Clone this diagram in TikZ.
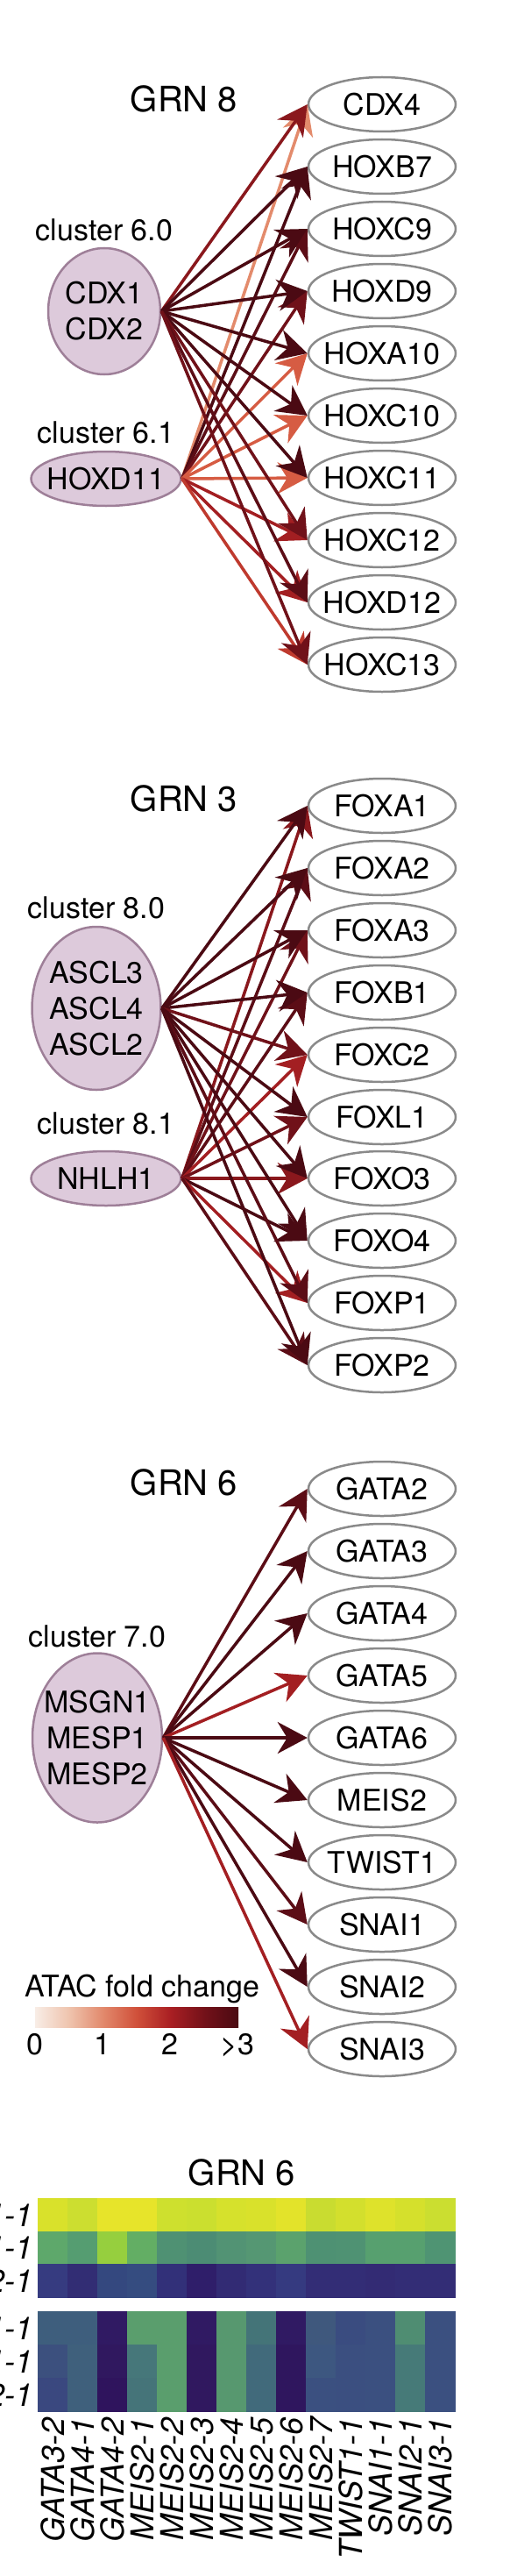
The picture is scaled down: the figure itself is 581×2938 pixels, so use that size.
\documentclass[tikz,border=0pt]{standalone}
\usepackage{fontspec}
\setmainfont{TeX Gyre Heros}
\usepackage{tikz}
\usetikzlibrary{arrows.meta, shapes.geometric}
\definecolor{edA}{HTML}{4B0A13}
\definecolor{edB}{HTML}{5C0D16}
\definecolor{edC}{HTML}{701119}
\definecolor{edD}{HTML}{8A181D}
\definecolor{edE}{HTML}{A31F22}
\definecolor{edF}{HTML}{BF3A2E}
\definecolor{edG}{HTML}{D65C43}
\definecolor{edH}{HTML}{E38B6C}
\definecolor{geneline}{HTML}{8A8A8A}
\definecolor{tffill}{HTML}{DDCADB}
\definecolor{tfline}{HTML}{9E7F98}
\definecolor{atac0}{HTML}{F8EDE6}
\definecolor{atac1}{HTML}{EFC4AE}
\definecolor{atac2}{HTML}{E2896C}
\definecolor{atac3}{HTML}{D0503A}
\definecolor{atac4}{HTML}{A91F23}
\definecolor{atac5}{HTML}{731119}
\definecolor{atac6}{HTML}{4A0A12}
\pgfdeclarehorizontalshading{atac}{100bp}{color(0bp)=(atac0); color(25bp)=(atac0); color(33.3bp)=(atac1); color(41.7bp)=(atac2); color(50bp)=(atac3); color(58.3bp)=(atac4); color(66.7bp)=(atac5); color(75bp)=(atac6); color(100bp)=(atac6)}
\tikzstyle{gene}=[ellipse, draw=geneline, fill=white, line width=2.5pt, minimum width=168pt, minimum height=62pt, inner xsep=-10pt, inner ysep=0pt, font=\fontsize{34}{41}\selectfont]
\tikzstyle{tf}=[ellipse, draw=tfline, fill=tffill, line width=2.5pt, inner xsep=-10pt, inner ysep=0pt, align=center, font=\fontsize{34}{41}\selectfont]
\tikzstyle{grntitle}=[anchor=base, inner sep=0pt, font=\fontsize{40}{48}\selectfont]
\tikzstyle{clabel}=[anchor=base, inner sep=0pt, font=\fontsize{34}{41}\selectfont]
\tikzstyle{reg}=[line width=3.5pt, -{Stealth[length=34pt, width=36pt, inset=11pt]}]
\tikzstyle{collabel}=[rotate=90, anchor=east, inner sep=0pt, font=\fontsize{36}{43}\selectfont\itshape]
\tikzstyle{rowlabel}=[anchor=east, inner sep=0pt, font=\fontsize{36}{43}\selectfont\itshape]

\begin{document}
\begin{tikzpicture}[x=1pt, y=-1pt]
	\useasboundingbox (0, 0) rectangle (581, 2938);
	% GRN 8
	\begin{scope}
		\node (t8) at (210, 128)[grntitle] {GRN 8};
		\node (c60) at (119, 275)[clabel] {cluster 6.0};
		\node (c61) at (121, 505)[clabel] {cluster 6.1};
		\node (cdx) at (119, 355)[tf, minimum width=128pt, minimum height=144pt] {CDX1\\CDX2};
		\node (hoxd) at (121, 546)[tf, minimum width=171pt, minimum height=62pt] {HOXD11};

		\node (cdx4) at (436, 119)[gene] {CDX4};
		\node (hoxb7) at (436, 190)[gene] {HOXB7};
		\node (hoxc9) at (436, 261)[gene] {HOXC9};
		\node (hoxd9) at (436, 332)[gene] {HOXD9};
		\node (hoxa10) at (436, 403)[gene] {HOXA10};
		\node (hoxc10) at (436, 474)[gene] {HOXC10};
		\node (hoxc11) at (436, 545)[gene] {HOXC11};
		\node (hoxc12) at (436, 616)[gene] {HOXC12};
		\node (hoxd12) at (436, 687)[gene] {HOXD12};
		\node (hoxc13) at (436, 758)[gene] {HOXC13};
	\end{scope}
	\begin{scope}
		\path [reg] (hoxd.east) edge [edH] (cdx4.west);
		\path [reg] (hoxd.east) edge [edA] (hoxb7.west);
		\path [reg] (hoxd.east) edge [edB] (hoxc9.west);
		\path [reg] (hoxd.east) edge [edC] (hoxd9.west);
		\path [reg] (hoxd.east) edge [edG] (hoxa10.west);
		\path [reg] (hoxd.east) edge [edG] (hoxc10.west);
		\path [reg] (hoxd.east) edge [edG] (hoxc11.west);
		\path [reg] (hoxd.east) edge [edE] (hoxc12.west);
		\path [reg] (hoxd.east) edge [edE] (hoxd12.west);
		\path [reg] (hoxd.east) edge [edF] (hoxc13.west);

		\path [reg] (cdx.east) edge [edD] (cdx4.west);
		\path [reg] (cdx.east) edge [edA] (hoxb7.west);
		\path [reg] (cdx.east) edge [edA] (hoxc9.west);
		\path [reg] (cdx.east) edge [edA] (hoxd9.west);
		\path [reg] (cdx.east) edge [edA] (hoxa10.west);
		\path [reg] (cdx.east) edge [edA] (hoxc10.west);
		\path [reg] (cdx.east) edge [edA] (hoxc11.west);
		\path [reg] (cdx.east) edge [edC] (hoxc12.west);
		\path [reg] (cdx.east) edge [edB] (hoxd12.west);
		\path [reg] (cdx.east) edge [edC] (hoxc13.west);
	\end{scope}

	% GRN 3
	\begin{scope}
		\node (t3) at (210, 925)[grntitle] {GRN 3};
		\node (c80) at (110, 1047)[clabel] {cluster 8.0};
		\node (c81) at (121, 1293)[clabel] {cluster 8.1};
		\node (ascl) at (110, 1150)[tf, minimum width=147pt, minimum height=186pt] {ASCL3\\ASCL4\\ASCL2};
		\node (nhlh) at (121, 1344)[tf, minimum width=171pt, minimum height=62pt] {NHLH1};

		\node (foxa1) at (436, 919)[gene] {FOXA1};
		\node (foxa2) at (436, 990)[gene] {FOXA2};
		\node (foxa3) at (436, 1061)[gene] {FOXA3};
		\node (foxb1) at (436, 1132)[gene] {FOXB1};
		\node (foxc2) at (436, 1203)[gene] {FOXC2};
		\node (foxl1) at (436, 1274)[gene] {FOXL1};
		\node (foxo3) at (436, 1344)[gene] {FOXO3};
		\node (foxo4) at (436, 1415)[gene] {FOXO4};
		\node (foxp1) at (436, 1486)[gene] {FOXP1};
		\node (foxp2) at (436, 1557)[gene] {FOXP2};
	\end{scope}
	\begin{scope}
		\path [reg] (nhlh.east) edge [edD] (foxa1.west);
		\path [reg] (nhlh.east) edge [edB] (foxa2.west);
		\path [reg] (nhlh.east) edge [edC] (foxa3.west);
		\path [reg] (nhlh.east) edge [edB] (foxb1.west);
		\path [reg] (nhlh.east) edge [edE] (foxc2.west);
		\path [reg] (nhlh.east) edge [edC] (foxl1.west);
		\path [reg] (nhlh.east) edge [edD] (foxo3.west);
		\path [reg] (nhlh.east) edge [edA] (foxo4.west);
		\path [reg] (nhlh.east) edge [edE] (foxp1.west);
		\path [reg] (nhlh.east) edge [edB] (foxp2.west);

		\path [reg] (ascl.east) edge [edA] (foxa1.west);
		\path [reg] (ascl.east) edge [edA] (foxa2.west);
		\path [reg] (ascl.east) edge [edA] (foxa3.west);
		\path [reg] (ascl.east) edge [edA] (foxb1.west);
		\path [reg] (ascl.east) edge [edC] (foxc2.west);
		\path [reg] (ascl.east) edge [edA] (foxl1.west);
		\path [reg] (ascl.east) edge [edA] (foxo3.west);
		\path [reg] (ascl.east) edge [edA] (foxo4.west);
		\path [reg] (ascl.east) edge [edB] (foxp1.west);
		\path [reg] (ascl.east) edge [edA] (foxp2.west);
	\end{scope}

	% GRN 6
	\begin{scope}
		\node (t6) at (210, 1705)[grntitle] {GRN 6};
		\node (c70) at (111, 1878)[clabel] {cluster 7.0};
		\node (msgn) at (111, 1982)[tf, minimum width=148pt, minimum height=193pt] {MSGN1\\MESP1\\MESP2};

		\node (gata2) at (436, 1698)[gene] {GATA2};
		\node (gata3) at (436, 1769)[gene] {GATA3};
		\node (gata4) at (436, 1840)[gene] {GATA4};
		\node (gata5) at (436, 1911)[gene] {GATA5};
		\node (gata6) at (436, 1982)[gene] {GATA6};
		\node (meis2) at (436, 2053)[gene] {MEIS2};
		\node (twist1) at (436, 2124)[gene] {TWIST1};
		\node (snai1) at (436, 2195)[gene] {SNAI1};
		\node (snai2) at (436, 2266)[gene] {SNAI2};
		\node (snai3) at (436, 2337)[gene] {SNAI3};
	\end{scope}
	\begin{scope}
		\path [reg] (msgn.east) edge [edB] (gata2.west);
		\path [reg] (msgn.east) edge [edA] (gata3.west);
		\path [reg] (msgn.east) edge [edA] (gata4.west);
		\path [reg] (msgn.east) edge [edE] (gata5.west);
		\path [reg] (msgn.east) edge [edA] (gata6.west);
		\path [reg] (msgn.east) edge [edA] (meis2.west);
		\path [reg] (msgn.east) edge [edA] (twist1.west);
		\path [reg] (msgn.east) edge [edB] (snai1.west);
		\path [reg] (msgn.east) edge [edA] (snai2.west);
		\path [reg] (msgn.east) edge [edE] (snai3.west);
	\end{scope}

	% legend
	\node (legend) at (28, 2277)[clabel, anchor=base west] {ATAC fold change};
	\shade [shading=atac] (40, 2289) rectangle (272, 2312);
	\node (tick0) at (40, 2343)[clabel] {0};
	\node (tick1) at (117, 2343)[clabel] {1};
	\node (tick2) at (194, 2343)[clabel] {2};
	\node (tick3) at (271, 2343)[clabel] {>3};

	% heatmap
	\node (th) at (276, 2492)[grntitle] {GRN 6};
	\foreach \hx [count=\i from 0] in {D9E12B, CCDE30, E7E42A, E7E42A, CEE02E, CBDF2F, D6E12C, D9E12B, E3E32A, C9DC30, D3DF2D, DEE22B, D5E02C, CBDE30}
		{\definecolor{cell}{HTML}{\hx}\filldraw [cell, line width=0.4pt] (43+34*\i, 2507) rectangle ++(34, 37.7);}
	\foreach \hx [count=\i from 0] in {5EA86B, 559D71, 96CF3E, 63AE64, 4F9173, 4C8C74, 529374, 559773, 5BA26D, 4E9173, 4F9273, 57A06F, 57A06F, 4F9473}
		{\definecolor{cell}{HTML}{\hx}\filldraw [cell, line width=0.4pt] (43+34*\i, 2544.7) rectangle ++(34, 37.7);}
	\foreach \hx [count=\i from 0] in {363B80, 322D74, 34487F, 354C80, 323079, 2F1E6A, 322B74, 33317A, 353A80, 332D76, 332D76, 332B74, 332D76, 332D76}
		{\definecolor{cell}{HTML}{\hx}\filldraw [cell, line width=0.4pt] (43+34*\i, 2582.3) rectangle ++(34, 37.7);}
	\foreach \hx [count=\i from 0] in {3E5E7D, 3E5E7D, 301A63, 5A9E6D, 5A9E6D, 301A63, 57986F, 447478, 301A63, 3F587D, 3A4C80, 3B5080, 4F8D72, 3B5080}
		{\definecolor{cell}{HTML}{\hx}\filldraw [cell, line width=0.4pt] (43+34*\i, 2636) rectangle ++(34, 38);}
	\foreach \hx [count=\i from 0] in {3C507E, 3F607C, 30185F, 46777A, 5A9E6D, 30185F, 57986F, 416A7B, 2F165E, 3D5780, 3B4F80, 3B5080, 467A78, 3B5080}
		{\definecolor{cell}{HTML}{\hx}\filldraw [cell, line width=0.4pt] (43+34*\i, 2674) rectangle ++(34, 38);}
	\foreach \hx [count=\i from 0] in {3A487F, 3F607C, 2F145D, 457479, 5A9E6D, 30185F, 57986F, 416A7B, 2F165E, 3B5080, 3B4F80, 3B5080, 467A78, 3B5080}
		{\definecolor{cell}{HTML}{\hx}\filldraw [cell, line width=0.4pt] (43+34*\i, 2712) rectangle ++(34, 38);}

	\node (r1) at (38, 2526)[rowlabel] {MSGN1-1};
	\node (r2) at (38, 2563)[rowlabel] {MESP1-1};
	\node (r3) at (38, 2601)[rowlabel] {MESP2-1};
	\node (r4) at (38, 2655)[rowlabel] {MSGN1-1};
	\node (r5) at (38, 2693)[rowlabel] {MESP1-1};
	\node (r6) at (38, 2731)[rowlabel] {MESP2-1};

	\foreach \lbl [count=\i from 0] in {GATA3-2, GATA4-1, GATA4-2, MEIS2-1, MEIS2-2, MEIS2-3, MEIS2-4, MEIS2-5, MEIS2-6, MEIS2-7, TWIST1-1, SNAI1-1, SNAI2-1, SNAI3-1}
		\node (col\i) at (60+34*\i, 2757)[collabel] {\lbl};
\end{tikzpicture}
\end{document}
